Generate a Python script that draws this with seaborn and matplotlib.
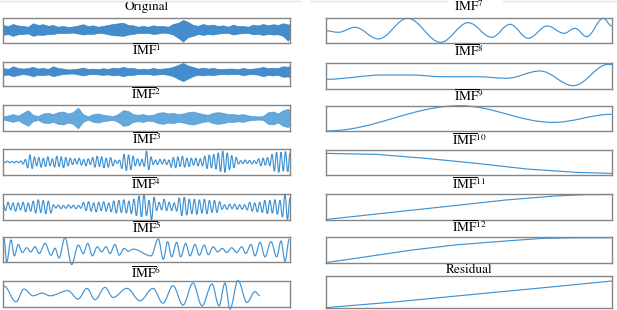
import numpy as np
import matplotlib
matplotlib.use('Agg')
import matplotlib.pyplot as plt
from matplotlib.path import Path
from matplotlib.patches import PathPatch
from matplotlib.lines import Line2D
import seaborn as sns

sns.set_style('white')
plt.rcParams['mathtext.fontset'] = 'stix'
plt.rcParams['font.family'] = ['STIXGeneral', 'DejaVu Serif']
plt.rcParams['text.color'] = 'black'

LINE = '#3f93d4'
DENSE = '#2f80c6'
EDGE = '#858585'

# ---- data (unit = half box height) ----
env_t = [0, 5, 10, 15, 20, 25, 30, 35, 40, 45, 50, 55, 60, 65, 70, 75, 80, 85, 90, 95,
         100, 105, 110, 115, 120, 125, 130, 135, 140, 145, 150, 155, 160, 165, 170, 175, 180, 185, 190, 195,
         200, 205, 210, 215, 220, 225, 230, 235, 240, 245, 250, 255, 260, 265, 270, 275, 280, 285, 287]

orig_hi = [0.45, 0.35, 0.53, 0.40, 0.37, 0.30, 0.59, 0.45, 0.51, 0.38, 0.45, 0.30, 0.37, 0.28, 0.32, 0.40, 0.51, 0.36, 0.42, 0.30,
           0.37, 0.45, 0.53, 0.58, 0.64, 0.45, 0.42, 0.30, 0.37, 0.30, 0.42, 0.35, 0.37, 0.30, 0.53, 0.62, 0.86, 0.70, 0.45, 0.38,
           0.53, 0.42, 0.48, 0.36, 0.42, 0.30, 0.48, 0.35, 0.37, 0.30, 0.48, 0.40, 0.53, 0.42, 0.51, 0.45, 0.59, 0.48, 0.53]
orig_lo = [-0.37, -0.30, -0.45, -0.32, -0.29, -0.25, -0.45, -0.35, -0.37, -0.30, -0.29, -0.22, -0.23, -0.20, -0.18, -0.26, -0.34, -0.28, -0.29, -0.22,
           -0.23, -0.32, -0.40, -0.42, -0.45, -0.35, -0.29, -0.22, -0.23, -0.20, -0.29, -0.25, -0.18, -0.22, -0.34, -0.60, -0.92, -0.55, -0.45, -0.30,
           -0.37, -0.30, -0.34, -0.26, -0.23, -0.20, -0.34, -0.26, -0.23, -0.20, -0.32, -0.28, -0.37, -0.30, -0.34, -0.32, -0.45, -0.85, -0.50]

imf1_hi = [0.51, 0.42, 0.64, 0.50, 0.45, 0.50, 0.59, 0.45, 0.51, 0.42, 0.64, 0.50, 0.45, 0.38, 0.40, 0.45, 0.53, 0.42, 0.45, 0.40,
           0.48, 0.42, 0.53, 0.48, 0.59, 0.50, 0.51, 0.40, 0.45, 0.40, 0.51, 0.42, 0.45, 0.50, 0.59, 0.75, 0.92, 0.70, 0.59, 0.45,
           0.53, 0.45, 0.51, 0.42, 0.42, 0.45, 0.45, 0.40, 0.51, 0.42, 0.45, 0.50, 0.59, 0.48, 0.53, 0.50, 0.64, 0.60, 0.70]
imf1_lo = [-0.10, -0.04, -0.18, -0.08, -0.01, -0.06, -0.18, -0.06, -0.10, -0.03, -0.18, -0.08, -0.01, 0.03, 0.04, -0.03, -0.12, -0.03, -0.01, -0.03,
           -0.07, -0.03, -0.12, -0.08, -0.18, -0.08, -0.07, -0.01, -0.01, 0.00, -0.07, -0.03, -0.01, -0.06, -0.18, -0.40, -0.59, -0.38, -0.18, -0.06,
           -0.12, -0.05, -0.10, -0.03, -0.01, -0.03, -0.01, 0.00, -0.10, -0.03, -0.01, -0.06, -0.18, -0.08, -0.12, -0.08, -0.23, -0.20, -0.29]

imf2_amp = [0.12, 0.20, 0.30, 0.18, 0.40, 0.60, 0.25, 0.15, 0.35, 0.40, 0.30, 0.45, 0.50, 0.35, 0.45, 0.80, 0.30, 0.12, 0.30, 0.35,
            0.25, 0.20, 0.15, 0.30, 0.60, 0.55, 0.30, 0.25, 0.30, 0.20, 0.25, 0.40, 0.45, 0.35, 0.40, 0.30, 0.35, 0.45, 0.50, 0.40,
            0.30, 0.25, 0.40, 0.45, 0.40, 0.30, 0.30, 0.25, 0.30, 0.20, 0.15, 0.12, 0.15, 0.45, 0.50, 0.35, 0.60, 0.70, 0.50]

imf3_ext = [0.05, -0.04, 0.06, -0.05, 0.04, -0.06, 0.05, -0.05, 0.08,
            -0.15, 0.2,
            -0.45, 0.55, -0.5, 0.4,
            -0.3, 0.35, -0.4, 0.3, -0.35, 0.4, -0.3, 0.25,
            -0.4, 0.45, -0.35, 0.4, -0.45, 0.35, -0.3, 0.3,
            -0.2, 0.25, -0.15, 0.3, -0.25, 0.2, -0.3, 0.25, -0.2,
            0.35, -0.4, 0.45, -0.35, 0.4, -0.45, 0.3, -0.4, 0.35, -0.3,
            0.15, -0.1, 0.15,
            -0.5, 0.6, -0.65, 0.55, -0.6, 0.45,
            -0.3, 0.25, -0.3, 0.2, -0.35,
            0.85, -0.6, 0.4,
            -0.2, 0.15, -0.2, 0.2, -0.15, 0.2, -0.2, 0.15,
            -0.4, 0.35, -0.45, 0.4, -0.35, 0.45, -0.4, 0.3, -0.35,
            0.3, -0.25, 0.3, -0.3, 0.25, -0.3,
            0.45, -0.5, 0.55, -0.45, 0.6, -0.55, 0.7, -0.75, 0.85, -0.8, 0.7, -0.6, 0.5, -0.45, 0.35,
            -0.15, 0.1, -0.12, 0.15, -0.1, 0.12, -0.15, 0.1, -0.12,
            0.25, -0.3, 0.3, -0.25, 0.35, -0.3,
            0.6, -0.7, 0.75, -0.8, 0.75, -0.7, 0.8, -0.75, 0.7]

imf4_ext = [0.25, -0.3, 0.35, -0.25, 0.3, -0.35, 0.3, -0.25,
            0.35, -0.4, 0.3, -0.35,
            0.45, -0.5, 0.55, -0.45, 0.5, -0.55, 0.45, -0.5,
            0.15, -0.1, 0.12, -0.15, 0.1, -0.12, 0.15, -0.1, 0.12, -0.15, 0.1, -0.12,
            0.35, -0.3, 0.4, -0.35, 0.3, -0.4, 0.35, -0.3, 0.4, -0.35, 0.3, -0.4,
            0.45, -0.5, 0.5, -0.45, 0.55, -0.5, 0.45, -0.55, 0.6,
            -0.7, 0.85, -0.8, 1.0, -0.7, 0.5, -1.05,
            0.75, -0.3, 0.35, -0.25, 0.6, -0.3, 0.35, -0.3, 0.3, -0.35,
            0.7, -0.7, 0.75, -0.65,
            0.6, -0.55, 0.6, -0.6, 0.55, -0.5, 0.6, -0.55,
            0.5, -0.45, 0.5, -0.45, 0.4,
            -0.2, 0.15, -0.2, 0.2, -0.15, 0.2, -0.2, 0.15, -0.2, 0.15, -0.25,
            0.35, -0.35, 0.3, -0.4, 0.35,
            -0.45, 0.5, -0.55, 0.5, -0.5, 0.55, -0.6, 0.5,
            -0.8, 1.0, -1.0, 0.7]

imf5_t = [1, 3.7, 8, 11.3, 15.3, 19.3, 23.7, 27.7, 32, 36.3, 42, 48, 52, 56, 62,
          68.7, 75.3, 80.3, 84.7, 89.3, 94.3, 98.7, 103, 107, 112, 116.3, 121, 125.3, 130.3, 148,
          155.3, 160.3, 164.7, 168.7, 173.7, 177.7, 182.7, 187, 192, 196.3, 201.3, 205.3, 210.3, 214.7, 219.3,
          223.7, 228.7, 233.7, 238.7, 242.7, 248, 252, 257, 262, 268, 273.7, 278, 282, 286.3]
imf5_v = [0.89, -1.0, 0.76, -0.51, 0.4, -0.24, 0.14, -0.19, 0.22, -0.32, 0.49, -0.46, 0.1, -0.68, 0.95,
          -1.2, 0.35, -0.32, 0.49, -0.51, 0.22, -0.19, 0.22, -0.32, 0.4, -0.46, 0.08, -0.14, 0.03, -0.51,
          0.84, -0.78, 0.62, -0.59, 0.57, -0.59, 0.49, -0.51, 0.4, -0.46, 0.35, -0.41, 0.22, -0.19, 0.08,
          -0.24, 0.14, -0.24, 0.22, -0.32, 0.4, -0.51, 0.57, -0.59, 0.62, -0.59, 0.68, -0.95, 0.84]

imf6_t = [1, 13, 21, 30, 39, 47, 65, 75, 84, 92, 102, 110, 124, 137, 150,
          160, 170, 180, 190, 199, 209, 216, 222, 227, 235, 244, 252, 257]
imf6_v = [0.6, -0.63, 0.37, -0.16, 0.05, -0.16, 0.24, -0.42, 0.42, -0.47, 0.5, -0.29, 0.42, -0.55, 0.42,
          -0.74, 0.63, -0.89, 0.84, -0.95, 0.76, -0.95, 0.84, -1.2, 1.03, -0.68, 0.16, -0.16]

imf7_t = [0, 12.3, 29, 52.3, 81.7, 114.7, 142.3, 165.7, 184, 202.3, 221.3, 238, 249, 260.7, 277.3, 285.7]
imf7_v = [0.0, -0.12, 0.28, -0.65, 1.0, -0.92, 0.65, -0.52, 0.52, -0.6, 0.39, -0.2, 0.2, -0.47, 1.0, 0.39]

imf8_t = [0, 57.3, 84, 117.3, 150.7, 180.7, 214, 247.3, 282.3, 285.7]
imf8_v = [-0.23, 0.1, 0.1, -0.03, -0.03, -0.15, 0.41, -0.72, 0.92, 0.9]

imf9_t = [0, 134, 227.3, 285.7]
imf9_v = [-1.0, 1.0, -0.32, 0.32]

imf10_t = [0, 50.7, 100, 150.7, 200.7, 250.7, 285.7]
imf10_v = [0.73, 0.65, 0.33, -0.07, -0.52, -0.79, -0.87]

imf11_t = [0, 60, 130, 180, 230, 260, 285.7]
imf11_v = [-0.96, -0.46, 0.12, 0.54, 0.85, 0.95, 0.96]

imf12_t = [0, 40, 84, 130, 184, 217, 250, 285.7]
imf12_v = [-0.95, -0.5, 0.0, 0.42, 0.74, 0.92, 0.96, 0.97]

resid_t = [0, 70, 142, 215, 286]
resid_v = [-0.96, -0.6, -0.17, 0.26, 0.69]

W, H = 617, 310
fig = plt.figure(figsize=(W / 100, H / 100), dpi=100)


def panel(l, t, r, b, title, base, xmax):
    ax = fig.add_axes([l / W, 1 - b / H, (r - l) / W, (b - t) / H])
    ax.set_xlim(0, xmax)
    ax.set_ylim(-1, 1)
    ax.set_xticks([])
    ax.set_yticks([])
    for s in ax.spines.values():
        s.set_color(EDGE)
        s.set_linewidth(1.0)
    ax.set_title(title, fontsize=9.5, color='black', pad=(t - base) * 0.72)
    return ax


def wave(ax, xs, ys, k=0.36):
    verts = [(xs[0], ys[0])]
    codes = [Path.MOVETO]
    for i in range(len(xs) - 1):
        dx = xs[i + 1] - xs[i]
        verts += [(xs[i] + k * dx, ys[i]), (xs[i + 1] - k * dx, ys[i + 1]), (xs[i + 1], ys[i + 1])]
        codes += [Path.CURVE4] * 3
    ax.add_patch(PathPatch(Path(verts, codes), fill=False, ec=LINE, lw=0.85, clip_on=False))


def imf(n):
    return r'$\overline{\mathrm{IMF}}^{%d}$' % n


# left column
ax = panel(3, 18.3, 290, 42.5, 'Original', 10, 287)
ax.fill_between(env_t, orig_lo, orig_hi, color=DENSE, alpha=0.9, lw=0.5, ec=DENSE)

ax = panel(3, 62, 290, 86, imf(1), 55, 287)
ax.fill_between(env_t, imf1_lo, imf1_hi, color=DENSE, alpha=0.9, lw=0.5, ec=DENSE)

ax = panel(3, 105, 290, 131, imf(2), 99.3, 287)
ax.fill_between(env_t, [-a for a in imf2_amp], imf2_amp, color=LINE, alpha=0.8, lw=0.5, ec=LINE)

ax = panel(3, 149, 290, 175, imf(3), 144.3, 287)
wave(ax, np.linspace(0, 287, len(imf3_ext)), imf3_ext)

ax = panel(3, 194, 290, 219.5, imf(4), 189.3, 287)
wave(ax, np.linspace(0, 287, len(imf4_ext)), imf4_ext)

ax = panel(3, 237, 290, 262, imf(5), 233.7, 287)
wave(ax, imf5_t, imf5_v)

ax = panel(3, 281, 290, 306.5, imf(6), 278.7, 287)
wave(ax, imf6_t, imf6_v)

# right column
ax = panel(326, 18.3, 612, 43.3, imf(7), 11, 286)
wave(ax, imf7_t, imf7_v)

ax = panel(326, 63.3, 612, 89.3, imf(8), 56.7, 286)
wave(ax, imf8_t, imf8_v)

ax = panel(326, 105.7, 612, 131, imf(9), 101, 286)
wave(ax, imf9_t, imf9_v)

for (t, b, n, base, xs, ys) in [(150, 175, 10, 145, imf10_t, imf10_v),
                                (194, 220, 11, 189.3, imf11_t, imf11_v),
                                (237.3, 263.3, 12, 232.7, imf12_t, imf12_v)]:
    ax = panel(326, t, 612, b, imf(n), base, 286)
    sns.lineplot(x=xs, y=ys, ax=ax, color=LINE, lw=0.85, clip_on=False)

ax = panel(326, 276, 612, 308.3, 'Residual', 273.3, 286)
sns.lineplot(x=resid_t, y=resid_v, ax=ax, color=LINE, lw=0.85, clip_on=False)

# faint strip at the very top
fig.add_artist(Line2D([0, 300 / W], [1 - 1 / H] * 2, color='#e2e2e2', lw=1))
fig.add_artist(Line2D([310 / W, 447 / W], [1 - 1 / H] * 2, color='#e2e2e2', lw=1))
fig.add_artist(Line2D([503 / W, 1], [1 - 1 / H] * 2, color='#e2e2e2', lw=1))

fig.savefig('out.png', dpi=100)
